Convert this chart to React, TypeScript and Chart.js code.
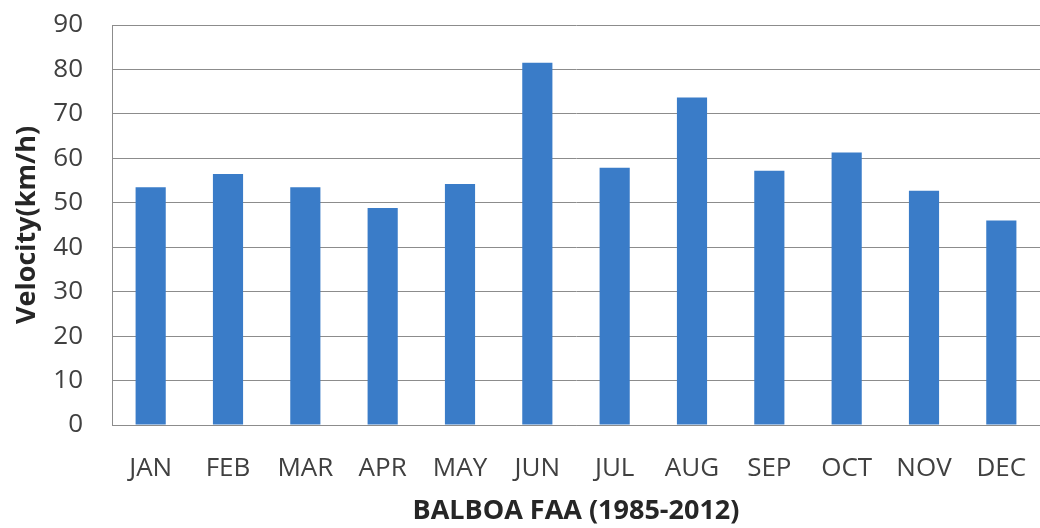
import React, { useEffect, useRef } from "react";
import { Chart, registerables } from "chart.js";

Chart.register(...registerables);

const categories = ["JAN", "FEB", "MAR", "APR", "MAY", "JUN", "JUL", "AUG", "SEP", "OCT", "NOV", "DEC"];
const velocity = [53.5, 56.5, 53.5, 48.8, 54.2, 81.5, 57.9, 73.7, 57.2, 61.3, 52.7, 46.0];
const yTitle = "Velocity(km/h)";
const xTitle = "BALBOA FAA (1985-2012)";

export default function App() {
  const ref = useRef<HTMLCanvasElement | null>(null);
  useEffect(() => {
    document.body.style.margin = "0";
    const ctx = ref.current!;
    const font = "'Open Sans', 'Liberation Sans', sans-serif";
    const chart = new Chart(ctx, {
      type: "bar",
      data: {
        labels: categories,
        datasets: [
          {
            data: velocity,
            backgroundColor: "#3a7cc8",
            borderWidth: 0,
            categoryPercentage: 1,
            barPercentage: 0.39,
          },
        ],
      },
      options: {
        animation: false,
        responsive: false,
        maintainAspectRatio: false,
        layout: { padding: { top: 25, right: 0, left: 0, bottom: 0 } },
        plugins: { legend: { display: false }, tooltip: { enabled: false } },
        scales: {
          x: {
            grid: { display: false, drawTicks: false },
            border: { display: true, color: "#8c8c8c", width: 1 },
            ticks: { color: "#404040", font: { family: font, size: 26 }, padding: 28, maxRotation: 0, autoSkip: false },
            title: {
              display: true,
              text: xTitle,
              color: "#262626",
              font: { family: font, size: 27, weight: "bold" },
              padding: { top: 10, bottom: 0 },
            },
            afterFit: (s: any) => {
              s.height = 103;
              s.paddingLeft = 0;
              s.paddingRight = 0;
            },
          },
          y: {
            min: 0,
            max: 90,
            ticks: { stepSize: 10, color: "#404040", font: { family: font, size: 26 }, padding: 29 },
            grid: { color: "#8c8c8c", lineWidth: 1, drawTicks: false },
            border: { display: true, color: "#8c8c8c", width: 1 },
            title: {
              display: true,
              text: yTitle,
              color: "#262626",
              font: { family: font, size: 27, weight: "bold" },
              padding: { top: 11, bottom: 0 },
            },
            afterFit: (s: any) => {
              s.width = 112;
              s.paddingTop = 0;
              s.paddingBottom = 0;
            },
          },
        },
      },
    });
    return () => chart.destroy();
  }, []);
  return (
    <div style={{ position: "absolute", left: 0, top: 0, width: 1040, height: 528 }}>
      <canvas ref={ref} width={1040} height={528} />
    </div>
  );
}
